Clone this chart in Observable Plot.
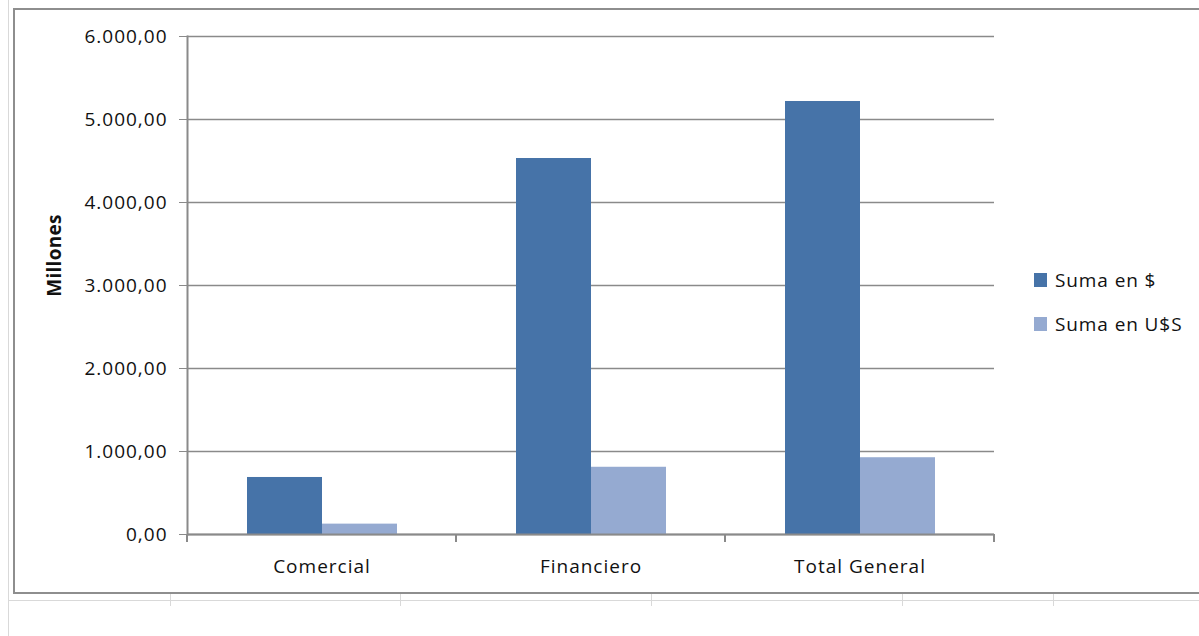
<!DOCTYPE html>
<html><head><meta charset="utf-8">
<script src="https://cdn.jsdelivr.net/npm/d3@7"></script>
<script src="https://cdn.jsdelivr.net/npm/@observablehq/plot@0.6"></script>
<style>
body{margin:0;background:#fff;width:1199px;height:636px;position:relative;overflow:hidden;font-family:"Open Sans",sans-serif;}
#chart{position:absolute;left:0;top:0;}
#sheetLeft{position:absolute;left:8px;top:0;width:1px;height:636px;background:#d9d9d9;}
#sheetRow{position:absolute;left:8px;top:600px;width:1191px;height:1px;background:#d9d9d9;}
.col{position:absolute;top:594px;width:1px;height:12px;background:#d9d9d9;}
#frame{position:absolute;left:13px;top:8px;width:1200px;height:586px;border:2px solid #8e8e8e;box-sizing:border-box;}
#legend{position:absolute;left:1034px;top:258px;font-family:"Open Sans",sans-serif;font-size:19px;color:#111;letter-spacing:0.9px;}
.item{display:flex;align-items:center;height:44px;}
.sw{width:13px;height:14px;margin-right:8px;}
g[aria-label="y-axis label"] text{font-weight:bold;letter-spacing:0.3px;}
</style></head>
<body>
<div id="sheetLeft"></div><div id="sheetRow"></div>
<div class="col" style="left:170px"></div><div class="col" style="left:400px"></div><div class="col" style="left:651px"></div><div class="col" style="left:902px"></div><div class="col" style="left:1053px"></div>
<div id="frame"></div>
<div id="chart"></div>
<div id="legend"></div>
<script>
const categories = ["Comercial", "Financiero", "Total General"];
const seriesNames = ["Suma en $", "Suma en U$S"];
const sumaPesos = [687, 4530, 5217];
const sumaDolares = [125, 810, 925];
const yTicks = [0, 1000, 2000, 3000, 4000, 5000, 6000];
const seriesColors = ["#4673A8", "#95AAD1"];

const data = [];
categories.forEach((c, i) => {
  data.push({categoria: c, serie: seriesNames[0], valor: sumaPesos[i]});
  data.push({categoria: c, serie: seriesNames[1], valor: sumaDolares[i]});
});

const locale = d3.formatLocale({decimal: ",", thousands: ".", grouping: [3], currency: ["$", ""]});
const fmt = locale.format(",.2f");
const gridColor = "#8a8a8a";

const plot = Plot.plot({
  width: 1199,
  height: 636,
  marginLeft: 186,
  marginRight: 204,
  marginTop: 36,
  marginBottom: 102,
  style: {fontFamily: "'Open Sans', sans-serif", fontSize: "19px", color: "#111", background: "transparent", letterSpacing: "1px"},
  fx: {domain: categories, padding: 0, label: null},
  x: {domain: seriesNames, paddingInner: 0, paddingOuter: 0.78, axis: null},
  y: {domain: [0, 6000]},
  color: {domain: seriesNames, range: seriesColors},
  marks: [
    Plot.ruleY(yTicks, {stroke: gridColor, strokeWidth: 1.5, strokeOpacity: 1}),
    Plot.barY(data, {fx: "categoria", x: "serie", y: "valor", fill: "serie", inset: 0}),
    Plot.ruleY([0], {stroke: gridColor, strokeWidth: 2}),
    Plot.frame({anchor: "left", facetAnchor: "left", stroke: gridColor, strokeWidth: 2, strokeOpacity: 1}),
    Plot.axisY({ticks: yTicks, tickFormat: fmt, tickSize: 8, tickPadding: 12, stroke: gridColor, strokeOpacity: 1, label: "Millones", labelAnchor: "center", labelArrow: "none", labelOffset: 140}),
    Plot.axisFx({tickSize: 0, tickPadding: 25, anchor: "bottom", label: null})
  ]
});
document.getElementById("chart").appendChild(plot);

// Excel places the axis title slightly above the plot's centre
const lg = d3.select(plot).select('g[aria-label="y-axis label"]');
lg.attr("transform", ((lg.attr("transform") || "") + " translate(0,-30)").trim());

// category boundary tick marks on the bottom axis, from the fx scale
const fx = plot.scale("fx");
const y = plot.scale("y");
const bounds = categories.map(c => fx.apply(c)).concat([fx.apply(categories[categories.length - 1]) + fx.bandwidth]);
const y0 = y.apply(0);
d3.select(plot).append("g").selectAll("line").data(bounds).join("line")
  .attr("x1", d => d).attr("x2", d => d)
  .attr("y1", y0).attr("y2", y0 + 8)
  .attr("stroke", gridColor).attr("stroke-width", 2);

const legend = d3.select("#legend");
seriesNames.forEach((s, i) => {
  const it = legend.append("div").attr("class", "item");
  it.append("div").attr("class", "sw").style("background", seriesColors[i]);
  it.append("span").text(s);
});
</script>
</body></html>
